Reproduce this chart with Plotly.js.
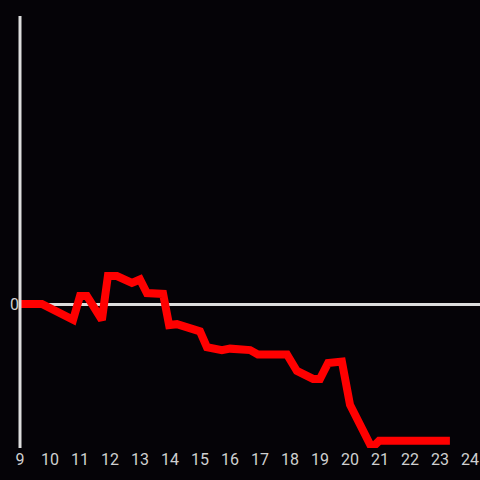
<!DOCTYPE html>
<html>
<head>
<meta charset="utf-8">
<script src="https://cdn.plot.ly/plotly-3.0.1.min.js"></script>
<style>html,body{margin:0;padding:0;background:#050307;}</style>
</head>
<body>
<div id="chart" style="width:480px;height:480px;"></div>
<script>
const hours = [9, 9.73, 10.77, 11.0, 11.23, 11.73, 11.93, 12.23, 12.73, 13.0, 13.23, 13.77, 13.97, 14.23, 15.0, 15.23, 15.73, 16.0, 16.67, 16.93, 17.9, 18.23, 18.77, 19.0, 19.27, 19.73, 20.0, 20.73, 20.97, 23.33];
const values = [0, 0, -0.11, 0.056, 0.056, -0.11, 0.194, 0.194, 0.146, 0.17, 0.076, 0.07, -0.146, -0.14, -0.19, -0.30, -0.32, -0.31, -0.32, -0.35, -0.35, -0.465, -0.52, -0.52, -0.41, -0.40, -0.70, -1.0, -0.95, -0.95];
const xTicks = [9,10,11,12,13,14,15,16,17,18,19,20,21,22,23,24];

Plotly.newPlot('chart', [{
  x: hours, y: values, type: 'scatter', mode: 'lines',
  line: {color: '#ff0000', width: 8}
}], {
  width: 480, height: 480,
  paper_bgcolor: '#050307', plot_bgcolor: '#050307',
  margin: {l: 20, r: 0, t: 16, b: 32},
  showlegend: false,
  font: {family: 'Roboto, sans-serif', size: 16, color: '#d0d0d0'},
  xaxis: {range: [9, 24.3333], tickvals: xTicks, ticktext: xTicks.map(String), showgrid: false, zeroline: false, showline: false, ticks: '', fixedrange: true},
  yaxis: {range: [-1, 2], tickvals: [0], ticktext: ['0'], showgrid: false, zeroline: true, zerolinecolor: '#dddddd', zerolinewidth: 3, showline: false, ticks: '', fixedrange: true},
  shapes: [{type: 'line', xref: 'paper', yref: 'paper', x0: 0, x1: 0, y0: 0, y1: 1, layer: 'above', line: {color: '#dddddd', width: 3}}]
}, {displayModeBar: false, staticPlot: true});
</script>
</body>
</html>
